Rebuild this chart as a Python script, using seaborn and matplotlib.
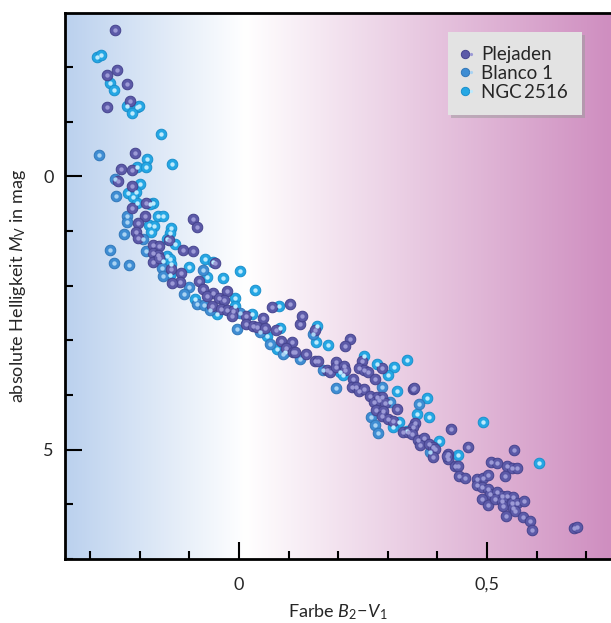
import numpy as np
import pandas as pd
import matplotlib
matplotlib.use("Agg")
import matplotlib.pyplot as plt
import seaborn as sns
from matplotlib.colors import LinearSegmentedColormap
from matplotlib.lines import Line2D
from matplotlib.legend_handler import HandlerTuple
from matplotlib.ticker import FixedLocator, MultipleLocator

# Farbe B2-V1 and absolute Helligkeit M_V per cluster
plejaden_bv = [
    -0.250, -0.267, -0.247, -0.226, -0.220, -0.267, -0.209, -0.238, -0.216, -0.245,
    -0.216, -0.188, -0.216, -0.189, -0.204, -0.092, -0.085, -0.208, -0.204, -0.141,
    -0.173, -0.161, -0.114, -0.093, -0.174, -0.163, -0.173, -0.161, -0.138, -0.118,
    -0.048, -0.119, -0.136, -0.080, -0.072, -0.053, -0.064, -0.025, -0.041, -0.030,
    -0.055, -0.037, -0.025, -0.013, -0.015, 0.066, 0.103, 0.014, 0.014, 0.048,
    0.028, 0.036, 0.052, 0.074, 0.084, 0.106, 0.095, 0.108, 0.122, 0.126,
    0.153, 0.224, 0.214, 0.135, 0.113, 0.153, 0.160, 0.177, 0.183, 0.196,
    0.196, 0.212, 0.214, 0.247, 0.241, 0.251, 0.261, 0.230, 0.227, 0.236,
    0.241, 0.251, 0.289, 0.274, 0.351, 0.264, 0.278, 0.288, 0.272, 0.283,
    0.294, 0.318, 0.276, 0.291, 0.288, 0.301, 0.311, 0.355, 0.351, 0.330,
    0.341, 0.348, 0.353, 0.427, 0.361, 0.372, 0.365, 0.382, 0.392, 0.395,
    0.391, 0.422, 0.422, 0.435, 0.442, 0.462, 0.554, 0.444, 0.456, 0.509,
    0.521, 0.540, 0.550, 0.560, 0.536, 0.480, 0.491, 0.501, 0.480, 0.489,
    0.501, 0.506, 0.521, 0.530, 0.541, 0.552, 0.489, 0.501, 0.516, 0.530,
    0.533, 0.550, 0.561, 0.575, 0.552, 0.556, 0.538, 0.572, 0.587, 0.591,
    0.675, 0.682, 0.419,
]
plejaden_mv = [
    -2.67, -1.85, -1.94, -1.69, -1.38, -1.27, -0.42, -0.13, -0.11, 0.09,
    0.18, 0.48, 0.58, 0.72, 0.85, 0.78, 0.93, 1.01, 1.12, 1.16,
    1.25, 1.27, 1.35, 1.36, 1.40, 1.43, 1.57, 1.49, 1.69, 1.77,
    1.59, 1.94, 1.95, 1.92, 2.06, 2.14, 2.18, 2.09, 2.22, 2.26,
    2.38, 2.42, 2.44, 2.47, 2.55, 2.39, 2.33, 2.55, 2.70, 2.59,
    2.73, 2.76, 2.78, 2.81, 3.01, 3.03, 3.14, 3.21, 2.70, 2.56,
    2.81, 2.98, 3.11, 3.25, 3.22, 3.37, 3.38, 3.54, 3.58, 3.40,
    3.48, 3.46, 3.54, 3.37, 3.50, 3.54, 3.57, 3.71, 3.85, 3.85,
    3.92, 3.89, 3.50, 3.71, 3.89, 4.01, 4.04, 4.04, 4.12, 4.09,
    4.15, 4.26, 4.27, 4.29, 4.38, 4.44, 4.47, 4.52, 4.58, 4.68,
    4.68, 4.71, 3.87, 4.62, 4.82, 4.79, 4.91, 4.89, 4.95, 4.98,
    5.14, 5.08, 5.17, 5.29, 5.29, 4.95, 5.00, 5.49, 5.51, 5.23,
    5.25, 5.29, 5.34, 5.34, 5.48, 5.54, 5.52, 5.47, 5.64, 5.69,
    5.72, 5.81, 5.77, 5.84, 5.84, 5.86, 5.90, 6.01, 5.90, 5.93,
    6.03, 5.98, 5.98, 5.93, 6.06, 6.12, 6.21, 6.23, 6.31, 6.47,
    6.43, 6.41, 5.11,
]

blanco_bv = [
    -0.282, -0.250, -0.248, -0.226, -0.226, -0.232, -0.261, -0.252, -0.221, -0.188,
    -0.156, -0.153, -0.072, -0.101, -0.112, -0.085, -0.071, -0.058, -0.005, 0.042,
    0.063, 0.088, 0.123, 0.169, 0.196, 0.288, 0.266, 0.275, 0.281, 0.385,
    -0.194, 0.002, 0.150, 0.304, 0.363,
]
blanco_mv = [
    -0.40, 0.04, 0.35, 0.73, 0.84, 1.06, 1.35, 1.59, 1.62, 1.37,
    1.67, 1.83, 1.72, 2.03, 2.15, 2.34, 2.36, 2.45, 2.79, 2.85,
    3.06, 3.25, 3.34, 3.54, 3.87, 3.86, 4.41, 4.54, 4.70, 5.05,
    1.14, 2.50, 2.88, 4.12, 4.16,
]

ngc2516_bv = [
    -0.286, -0.279, -0.260, -0.253, -0.226, -0.206, -0.201, -0.215, -0.158, -0.185,
    -0.135, -0.205, -0.188, -0.199, -0.208, -0.223, -0.214, -0.173, -0.206, -0.179,
    -0.163, -0.153, -0.181, -0.171, -0.178, -0.137, -0.139, -0.146, -0.129, -0.146,
    -0.154, -0.139, -0.137, -0.139, -0.100, -0.069, -0.052, -0.064, 0.001, -0.032,
    -0.089, 0.033, -0.009, -0.044, -0.008, 0.081, 0.026, 0.056, 0.083, 0.076,
    0.157, 0.155, 0.179, 0.093, 0.204, 0.210, 0.251, 0.278, 0.313, 0.339,
    0.301, 0.318, 0.378, 0.323, 0.359, 0.383, 0.310, 0.403, 0.338, 0.491,
    0.441, 0.605,
]
ngc2516_mv = [
    -2.19, -2.22, -1.71, -1.58, -1.28, -1.27, -1.29, -1.16, -0.78, -0.31,
    -0.22, -0.18, -0.18, 0.13, 0.28, 0.30, 0.38, 0.49, 0.48, 0.51,
    0.73, 0.72, 0.88, 0.90, 1.01, 0.95, 1.03, 1.14, 1.23, 1.45,
    1.54, 1.51, 1.60, 1.80, 1.65, 1.51, 1.57, 1.84, 1.73, 1.86,
    2.24, 2.07, 2.23, 2.52, 2.38, 2.38, 2.51, 2.92, 2.78, 3.16,
    2.73, 3.03, 3.08, 3.22, 3.58, 3.64, 3.28, 3.43, 3.48, 3.36,
    3.64, 3.92, 4.05, 4.50, 4.34, 4.41, 4.59, 4.84, 4.65, 4.50,
    5.09, 5.25,
]

clusters = ["Plejaden", "Blanco 1", "NGC\u20092516"]
x_ticks = [0, 0.5]
x_ticklabels = ["0", "0,5"]
y_ticks = [0, 5]
y_ticklabels = ["0", "5"]

df = pd.concat([
    pd.DataFrame({"bv": plejaden_bv, "mv": plejaden_mv, "Sternhaufen": clusters[0]}),
    pd.DataFrame({"bv": blanco_bv, "mv": blanco_mv, "Sternhaufen": clusters[1]}),
    pd.DataFrame({"bv": ngc2516_bv, "mv": ngc2516_mv, "Sternhaufen": clusters[2]}),
], ignore_index=True)

sns.set_theme(style="white")
plt.rcParams["font.family"] = ["Lato", "DejaVu Sans"]
plt.rcParams["mathtext.fontset"] = "custom"
plt.rcParams["mathtext.rm"] = "Lato"
plt.rcParams["mathtext.it"] = "Lato:italic"

base = dict(zip(clusters, ["#5c5aa8", "#3f8dd3", "#25a7e4"]))
rim = dict(zip(clusters, ["#45438e", "#3077b9", "#1a8fcc"]))
shine = dict(zip(clusters, ["#9c9ad6", "#a9d3f3", "#bdeafd"]))

fig = plt.figure(figsize=(6.11, 6.23), dpi=100)
ax = fig.add_axes([65 / 611, 64 / 623, 546 / 611, 546 / 623])

xlim = (-0.351, 0.750)
ylim = (7.0, -2.99)

# colour gradient behind the diagram: blue - white - pink
grad = LinearSegmentedColormap.from_list(
    "farbe", [(0.0, "#bbd1ee"), (0.33, "#ffffff"), (1.0, "#cf8ec0")])
ax.imshow(np.linspace(0, 1, 256).reshape(1, -1), cmap=grad, aspect="auto",
          extent=(xlim[0], xlim[1], ylim[0], ylim[1]), zorder=0,
          interpolation="bicubic")

for name in [clusters[2], clusters[1], clusters[0]]:
    sub = df[df["Sternhaufen"] == name]
    sns.scatterplot(data=sub, x="bv", y="mv", ax=ax, color=base[name],
                    edgecolor=rim[name], linewidth=0.7, s=58, zorder=2,
                    legend=False)
    ax.scatter(sub["bv"], sub["mv"], s=10, color=shine[name], linewidths=0,
               zorder=3)

ax.set_xlim(*xlim)
ax.set_ylim(*ylim)

ax.xaxis.set_major_locator(FixedLocator(x_ticks))
ax.set_xticklabels(x_ticklabels)
ax.xaxis.set_minor_locator(MultipleLocator(0.1))
ax.yaxis.set_major_locator(FixedLocator(y_ticks))
ax.set_yticklabels(y_ticklabels)
ax.yaxis.set_minor_locator(MultipleLocator(1))

ax.tick_params(which="major", direction="in", length=12, width=1.5,
               color="black", labelsize=13, pad=13)
ax.tick_params(which="minor", direction="in", length=6, width=1.5,
               color="black")
ax.tick_params(axis="x", which="both", bottom=True, top=False)
ax.tick_params(axis="y", which="both", left=True, right=False)
ax.tick_params(axis="y", which="major", pad=8)

for side in ["left", "bottom", "top"]:
    ax.spines[side].set_visible(True)
    ax.spines[side].set_linewidth(2)
    ax.spines[side].set_color("black")
ax.spines["right"].set_visible(False)

ax.set_xlabel(r"Farbe $\mathit{B}_{\mathrm{2}}\!-\!\mathit{V}_{\mathrm{1}}$",
              fontsize=13, labelpad=7)
ax.set_ylabel(r"absolute Helligkeit $\mathit{M}_{\mathrm{V}}$ in mag",
              fontsize=13, labelpad=11)

handles = []
for name in clusters:
    h1 = Line2D([], [], ls="none", marker="o", markersize=6,
                markerfacecolor=base[name], markeredgecolor=rim[name],
                markeredgewidth=0.7)
    h2 = Line2D([], [], ls="none", marker="o", markersize=2.3,
                markerfacecolor=shine[name], markeredgewidth=0)
    handles.append((h1, h2))

leg = ax.legend(handles, clusters, handler_map={tuple: HandlerTuple(ndivide=None, pad=0)},
                loc="upper right", bbox_to_anchor=(0.947, 0.965), borderaxespad=0,
                frameon=True, fancybox=False, shadow={"color": "#9a9a9a", "alpha": 0.5},
                facecolor="#e3e3e3", edgecolor="none", framealpha=1, fontsize=13.5,
                handlelength=0.6, handletextpad=0.4, labelspacing=0.1,
                borderpad=0.75)
leg.get_frame().set_linewidth(0)

fig.savefig("out.png", dpi=100)
